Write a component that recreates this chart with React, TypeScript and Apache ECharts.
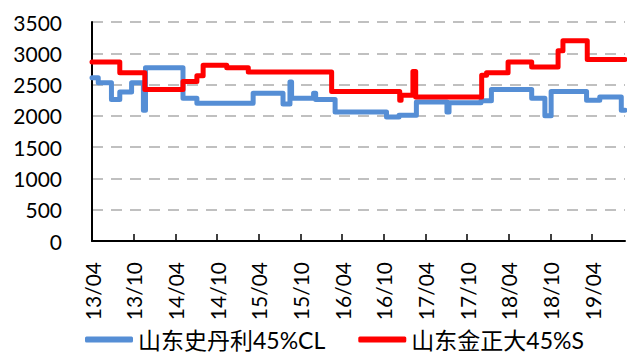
import React, { useEffect, useRef } from "react";
import * as echarts from "echarts";

// Step-change dates and the value that applies from each date on
const blueDates = [
  "2013-04-01", "2013-04-28", "2013-06-25", "2013-08-01", "2013-09-22", "2013-11-13", "2013-11-22",
  "2014-05-04", "2014-07-04", "2015-03-07", "2015-07-16", "2015-08-16", "2015-08-23", "2015-11-28",
  "2015-12-07", "2016-03-01", "2016-10-13", "2016-12-07", "2017-02-22", "2017-07-04", "2017-07-13",
  "2017-12-01", "2018-01-16", "2018-07-10", "2018-09-07", "2018-10-04", "2019-03-07", "2019-05-04",
  "2019-08-07", "2019-08-23",
];
const blueValues = [
  2610, 2530, 2260, 2380, 2530, 2090, 2770,
  2280, 2200, 2360, 2190, 2540, 2280, 2360,
  2260, 2060, 1980, 2010, 2220, 2060, 2210,
  2240, 2420, 2280, 2000, 2390, 2250, 2300,
  2090, 2090,
];
const redDates = [
  "2013-04-01", "2013-08-01", "2013-11-19", "2014-05-04", "2014-07-04", "2014-08-01", "2014-11-13",
  "2015-02-16", "2016-02-16", "2016-12-10", "2016-12-16", "2017-02-07", "2017-02-19", "2017-12-04",
  "2017-12-25", "2018-03-28", "2018-07-10", "2018-11-04", "2018-11-25", "2019-03-10", "2019-08-23",
];
const redValues = [
  2860, 2690, 2420, 2550, 2640, 2810, 2770,
  2700, 2390, 2250, 2330, 2710, 2300, 2650,
  2690, 2860, 2780, 3040, 3200, 2900, 2900,
];
const seriesNames = ["山东史丹利45%CL", "山东金正大45%S"];
const axisStart = "2013-04-01";
const axisEnd = "2019-08-23";
const yTicks = [0, 500, 1000, 1500, 2000, 2500, 3000, 3500];

const toM = (s: string) => {
  const [y, mo, d] = s.split("-").map(Number);
  return (y - 2013) * 12 + (mo - 4) + (d - 1) / 30;
};
const monthLabel = (v: number) => {
  const total = 3 + Math.round(v);
  const yy = 13 + Math.floor(total / 12);
  const mm = (total % 12) + 1;
  return `${yy}/${String(mm).padStart(2, "0")}`;
};

const FONT = "Lato, 'Noto Sans CJK SC', sans-serif";

export default function App() {
  const ref = useRef<HTMLDivElement>(null);
  useEffect(() => {
    if (!ref.current) return;
    const chart = echarts.init(ref.current, undefined, { renderer: "svg" });
    const blue = blueDates.map((d, i) => [toM(d), blueValues[i]]);
    const red = redDates.map((d, i) => [toM(d), redValues[i]]);
    chart.setOption({
      animation: false,
      backgroundColor: "#ffffff",
      grid: { left: 92, right: 2, top: 22, bottom: 113, containLabel: false },
      legend: {
        left: 80,
        top: 323,
        itemWidth: 48,
        itemHeight: 6,
        itemGap: 33,
        icon: "roundRect",
        textStyle: { fontFamily: FONT, fontSize: 23, color: "#000" },
        data: seriesNames,
      },
      xAxis: {
        type: "value",
        min: toM(axisStart),
        max: toM(axisEnd),
        interval: 6,
        axisLine: { show: true, lineStyle: { color: "#000", width: 2 } },
        axisTick: { show: true, inside: true, length: 7, lineStyle: { color: "#000", width: 1.5 } },
        splitLine: { show: false },
        axisLabel: {
          rotate: 90,
          margin: 21,
          fontFamily: FONT,
          fontSize: 21,
          color: "#000",
          showMaxLabel: false,
          formatter: monthLabel,
        },
      },
      yAxis: {
        type: "value",
        min: yTicks[0],
        max: yTicks[yTicks.length - 1],
        interval: 500,
        axisLine: { show: true, lineStyle: { color: "#000", width: 2 } },
        axisTick: { show: false },
        splitLine: { show: true, lineStyle: { color: "#c0c0c0", width: 2, type: [11, 8] } },
        axisLabel: {
          margin: 30,
          fontFamily: FONT,
          fontSize: 21,
          color: "#000",
          formatter: (v: number) => String(v),
        },
      },
      series: [
        {
          name: seriesNames[0],
          type: "line",
          step: "end",
          symbol: "none",
          data: blue,
          color: "#558ed5",
          lineStyle: { color: "#558ed5", width: 5, cap: "round", join: "round" },
        },
        {
          name: seriesNames[1],
          type: "line",
          step: "end",
          symbol: "none",
          data: red,
          color: "#ff0000",
          lineStyle: { color: "#ff0000", width: 5, cap: "round", join: "round" },
        },
      ],
    });
    return () => chart.dispose();
  }, []);
  return (
    <div
      ref={ref}
      style={{ position: "absolute", left: 0, top: 0, width: 627, height: 354 }}
    />
  );
}
